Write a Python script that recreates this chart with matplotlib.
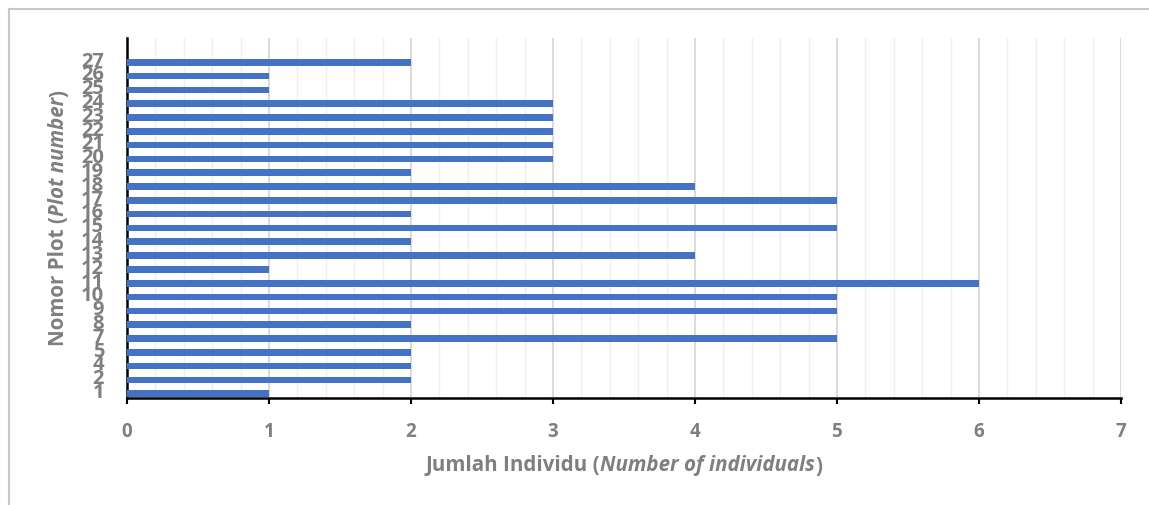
import matplotlib
matplotlib.use("Agg")
import matplotlib.pyplot as plt
import numpy as np
from matplotlib.ticker import MultipleLocator
from matplotlib.lines import Line2D

plots = ["1", "2", "4", "5", "7", "8", "9", "10", "11", "12", "13", "14", "15",
         "16", "17", "18", "19", "20", "21", "22", "23", "24", "25", "26", "27"]
counts = [1, 2, 2, 2, 5, 2, 5, 5, 6, 1, 4, 2, 5, 2, 5, 4, 2, 3, 3, 3, 3, 3, 1, 1, 2]

GREY = "#7f7f7f"
BLUE = "#4472c4"
FONT = "Open Sans"

W, H = 1149, 505
fig = plt.figure(figsize=(W / 100, H / 100), dpi=100)
fig.patch.set_facecolor("white")

# outer border (top and left visible)
fig.add_artist(Line2D([9 / W, 9 / W], [0, 1 - 9 / H], color="#c8c8c8", lw=1.5))
fig.add_artist(Line2D([9 / W, 1], [1 - 9 / H, 1 - 9 / H], color="#c8c8c8", lw=1.5))

left, right, bottom, top = 127 / W, 1121 / W, 1 - 397.5 / H, 1 - 38.3 / H
ax = fig.add_axes([left, bottom, right - left, top - bottom])

ypos = np.arange(len(plots))
ax.barh(ypos - 0.23, counts, height=0.48, color=BLUE, zorder=3)

ax.set_xlim(0, 7)
ax.set_ylim(-0.5, len(plots) + 0.5)
ax.xaxis.set_major_locator(MultipleLocator(1))
ax.xaxis.set_minor_locator(MultipleLocator(0.2))
ax.grid(which="major", axis="x", color="#d4d4d4", lw=1.2, zorder=0)
ax.grid(which="minor", axis="x", color="#efefef", lw=1.0, zorder=0)

ax.set_yticks(ypos)
ax.set_yticklabels(plots)
for s in ["top", "right"]:
    ax.spines[s].set_visible(False)
for s in ["left", "bottom"]:
    ax.spines[s].set_color("black")
    ax.spines[s].set_linewidth(1.8)

ax.tick_params(axis="y", length=0, pad=16.5, labelsize=14.5, labelcolor=GREY)
ax.tick_params(axis="x", which="major", length=4.5, width=1.5, color="black",
               pad=13, labelsize=13.5, labelcolor=GREY, direction="out")
ax.tick_params(axis="x", which="minor", length=0)
for lab in ax.get_yticklabels() + ax.get_xticklabels():
    lab.set_fontfamily(FONT)
    lab.set_fontweight("bold")

# composite axis titles (regular bold + bold italic)
fig.canvas.draw()
renderer = fig.canvas.get_renderer()

def composite(parts, cx, cy, rotation=0, size=12):
    texts = []
    for s, style in parts:
        t = fig.text(0, 0, s, fontsize=size, fontfamily=FONT, fontweight="bold",
                     fontstyle=style, color=GREY, rotation=rotation,
                     ha="left", va="center", rotation_mode="anchor",
                     transform=None)
        texts.append(t)
    lens = []
    for t in texts:
        bb = t.get_window_extent(renderer)
        lens.append(bb.width if rotation == 0 else bb.height)
    total = sum(lens)
    pos = -total / 2
    for t, L in zip(texts, lens):
        if rotation == 0:
            t.set_position((cx + pos, cy))
        else:
            t.set_position((cx, cy + pos))
        pos += L

composite([("Jumlah Individu (", "normal"), ("Number of individuals", "italic"), (")", "normal")],
          624, H - 466, 0, 14.8)
composite([("Nomor Plot (", "normal"), ("Plot number", "italic"), (")", "normal")],
          59, H - 218, 90, 14.8)

fig.savefig("out.png", dpi=100, facecolor="white")
